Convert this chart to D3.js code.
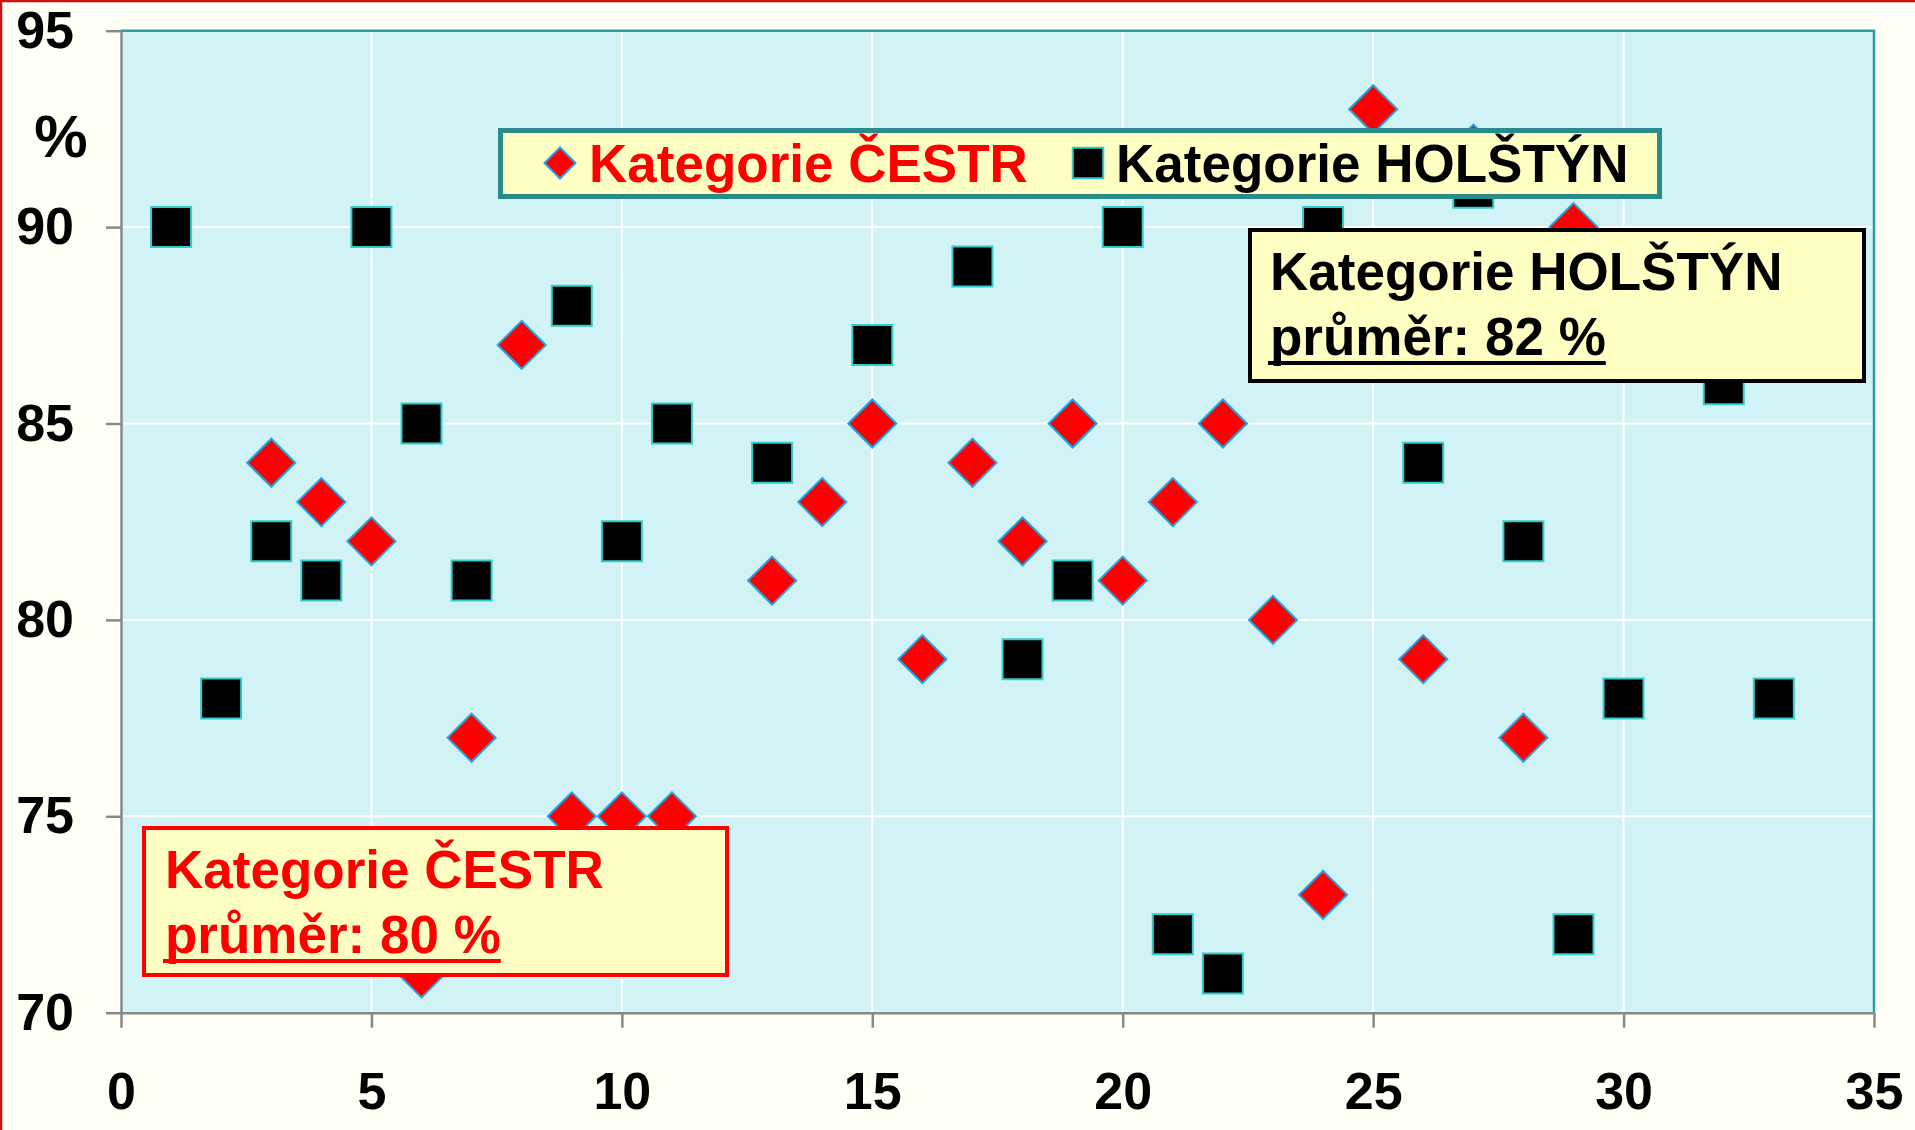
<!DOCTYPE html>
<html lang="cs">
<head>
<meta charset="UTF-8">
<title>Kategorie ČESTR a HOLŠTÝN</title>
<style>
  body { margin: 0; background: #fffff5; }
  svg { display: block; font-family: "Liberation Sans", Arial, sans-serif; font-weight: bold; }
</style>
</head>
<body>
<script src="https://cdn.jsdelivr.net/npm/d3@7"></script>
<script>

    // values
    var cestrX = [3, 4, 5, 6, 7, 8, 9, 10, 11, 13, 14, 15, 16, 17, 18, 19, 20, 21, 22, 23, 24, 25, 26, 27, 28, 29];
    var cestrY = [84, 83, 82, 71, 77, 87, 75, 75, 75, 81, 83, 85, 79, 84, 82, 85, 81, 83, 85, 80, 73, 93, 79, 92, 77, 90];

    var holstynX = [1, 2, 3, 4, 5, 6, 7, 9, 10, 11, 13, 15, 17, 18, 19, 20, 21, 22, 24, 26, 27, 28, 29, 30, 32, 33];
    var holstynY = [90, 78, 82, 81, 90, 85, 81, 88, 82, 85, 84, 87, 89, 79, 81, 90, 72, 71, 90, 84, 91, 82, 72, 78, 86, 78];

    var xTicks = [0, 5, 10, 15, 20, 25, 30, 35];
    var yTicks = [70, 75, 80, 85, 90, 95];

    var seriesNames = ['Kategorie ČESTR', 'Kategorie HOLŠTÝN'];
    var averages = ['průměr: 80 %', 'průměr: 82 %'];
    var yTitle = '%';

    var width = 1915,
        height = 1130;

    var plot = {left: 121, right: 1874, top: 30.7, bottom: 1012.7};

    var x = d3.scaleLinear().domain([0, 35]).range([plot.left, plot.right]);
    var y = d3.scaleLinear().domain([70, 95]).range([plot.bottom, plot.top]);

    var svg = d3.select('body').append('svg')
        .attr('width', width)
        .attr('height', height);

    svg.append('rect')
        .attr('width', width)
        .attr('height', height)
        .attr('fill', '#fffff5');

    // red frame, only top and left show
    svg.append('line')
        .attr('x1', 0).attr('x2', width).attr('y1', 1).attr('y2', 1)
        .attr('stroke', '#cc1111').attr('stroke-width', 2.5);
    svg.append('line')
        .attr('x1', 1).attr('x2', 1).attr('y1', 0).attr('y2', height)
        .attr('stroke', '#cc1111').attr('stroke-width', 2.5);

    svg.append('rect')
        .attr('x', plot.left)
        .attr('y', plot.top)
        .attr('width', plot.right - plot.left)
        .attr('height', plot.bottom - plot.top)
        .attr('fill', '#d2f3f5');

    svg.append('g').selectAll('line')
        .data(xTicks)
        .enter()
        .append('line')
        .attr('x1', d => x(d)).attr('x2', d => x(d))
        .attr('y1', plot.top).attr('y2', plot.bottom)
        .attr('stroke', '#ffffff').attr('stroke-width', 2);

    svg.append('g').selectAll('line')
        .data(yTicks)
        .enter()
        .append('line')
        .attr('x1', plot.left).attr('x2', plot.right)
        .attr('y1', d => y(d)).attr('y2', d => y(d))
        .attr('stroke', '#ffffff').attr('stroke-width', 2);

    // teal border top and right
    svg.append('path')
        .attr('d', 'M' + plot.left + ',' + plot.top + 'H' + plot.right + 'V' + plot.bottom)
        .attr('fill', 'none')
        .attr('stroke', '#2a9d9d')
        .attr('stroke-width', 2.5);

    var xAxis = svg.append('g')
        .attr('transform', 'translate(0,' + plot.bottom + ')')
        .call(d3.axisBottom(x).tickValues(xTicks).tickSize(15).tickSizeOuter(0).tickPadding(44));

    var yAxis = svg.append('g')
        .attr('transform', 'translate(' + plot.left + ',0)')
        .call(d3.axisLeft(y).tickValues(yTicks).tickSize(15).tickSizeOuter(0).tickPadding(32));

    [xAxis, yAxis].forEach(function (a) {
        a.attr('font-family', null).attr('font-size', null);
        a.select('.domain').attr('stroke', '#888888').attr('stroke-width', 2.5);
        a.selectAll('.tick line').attr('stroke', '#888888').attr('stroke-width', 2.5);
        a.selectAll('.tick text')
            .attr('fill', '#000')
            .attr('font-size', 52)
            .attr('font-weight', 'bold');
    });

    svg.append('text')
        .attr('x', 61)
        .attr('y', 157)
        .attr('text-anchor', 'middle')
        .attr('font-size', 60)
        .attr('fill', '#000')
        .text(yTitle);

    var diamond = d3.symbol().type(d3.symbolSquare).size(1152);
    var square = d3.symbol().type(d3.symbolSquare).size(1600);

    svg.append('g').selectAll('path')
        .data(cestrX)
        .enter()
        .append('path')
        .attr('d', diamond)
        .attr('transform', (d, i) => 'translate(' + x(d) + ',' + y(cestrY[i]) + ') rotate(45)')
        .attr('fill', '#ff0000')
        .attr('stroke', '#21a3e3')
        .attr('stroke-width', 2);

    svg.append('g').selectAll('path')
        .data(holstynX)
        .enter()
        .append('path')
        .attr('d', square)
        .attr('transform', (d, i) => 'translate(' + x(d) + ',' + y(holstynY[i]) + ')')
        .attr('fill', '#000000')
        .attr('stroke', '#33cccc')
        .attr('stroke-width', 2);

    // legend
    var legend = svg.append('g');
    legend.append('rect')
        .attr('x', 500.5).attr('y', 130.5)
        .attr('width', 1159).attr('height', 66)
        .attr('fill', '#ffffc4')
        .attr('stroke', '#2a8b8b')
        .attr('stroke-width', 5);
    legend.append('path')
        .attr('d', d3.symbol().type(d3.symbolSquare).size(480))
        .attr('transform', 'translate(560,163) rotate(45)')
        .attr('fill', '#ff0000')
        .attr('stroke', '#21a3e3')
        .attr('stroke-width', 2);
    legend.append('text')
        .attr('x', 589).attr('y', 182)
        .attr('font-size', 53)
        .attr('fill', '#ff0000')
        .text(seriesNames[0]);
    legend.append('path')
        .attr('d', d3.symbol().type(d3.symbolSquare).size(930))
        .attr('transform', 'translate(1088,163)')
        .attr('fill', '#000000')
        .attr('stroke', '#33cccc')
        .attr('stroke-width', 2);
    legend.append('text')
        .attr('x', 1116).attr('y', 182)
        .attr('font-size', 53)
        .attr('fill', '#000000')
        .text(seriesNames[1]);

    // average boxes
    var boxes = [
        {name: seriesNames[0], avg: averages[0], color: '#ff0000', x: 144, y: 828, w: 583, h: 147, tx: 165, ty: 888},
        {name: seriesNames[1], avg: averages[1], color: '#000000', x: 1250, y: 230, w: 614, h: 151, tx: 1270, ty: 290}
    ];

    boxes.forEach(function (b) {
        var g = svg.append('g');
        g.append('rect')
            .attr('x', b.x).attr('y', b.y)
            .attr('width', b.w).attr('height', b.h)
            .attr('fill', '#ffffc4')
            .attr('stroke', b.color)
            .attr('stroke-width', 4);
        g.append('text')
            .attr('x', b.tx).attr('y', b.ty)
            .attr('font-size', 53)
            .attr('fill', b.color)
            .text(b.name);
        var t = g.append('text')
            .attr('x', b.tx).attr('y', b.ty + 65)
            .attr('font-size', 53)
            .attr('fill', b.color)
            .text(b.avg);
        var len = t.node().getComputedTextLength();
        g.append('line')
            .attr('x1', b.tx - 2).attr('x2', b.tx + len)
            .attr('y1', b.ty + 73).attr('y2', b.ty + 73)
            .attr('stroke', b.color)
            .attr('stroke-width', 4);
    });
</script>
</body>
</html>
